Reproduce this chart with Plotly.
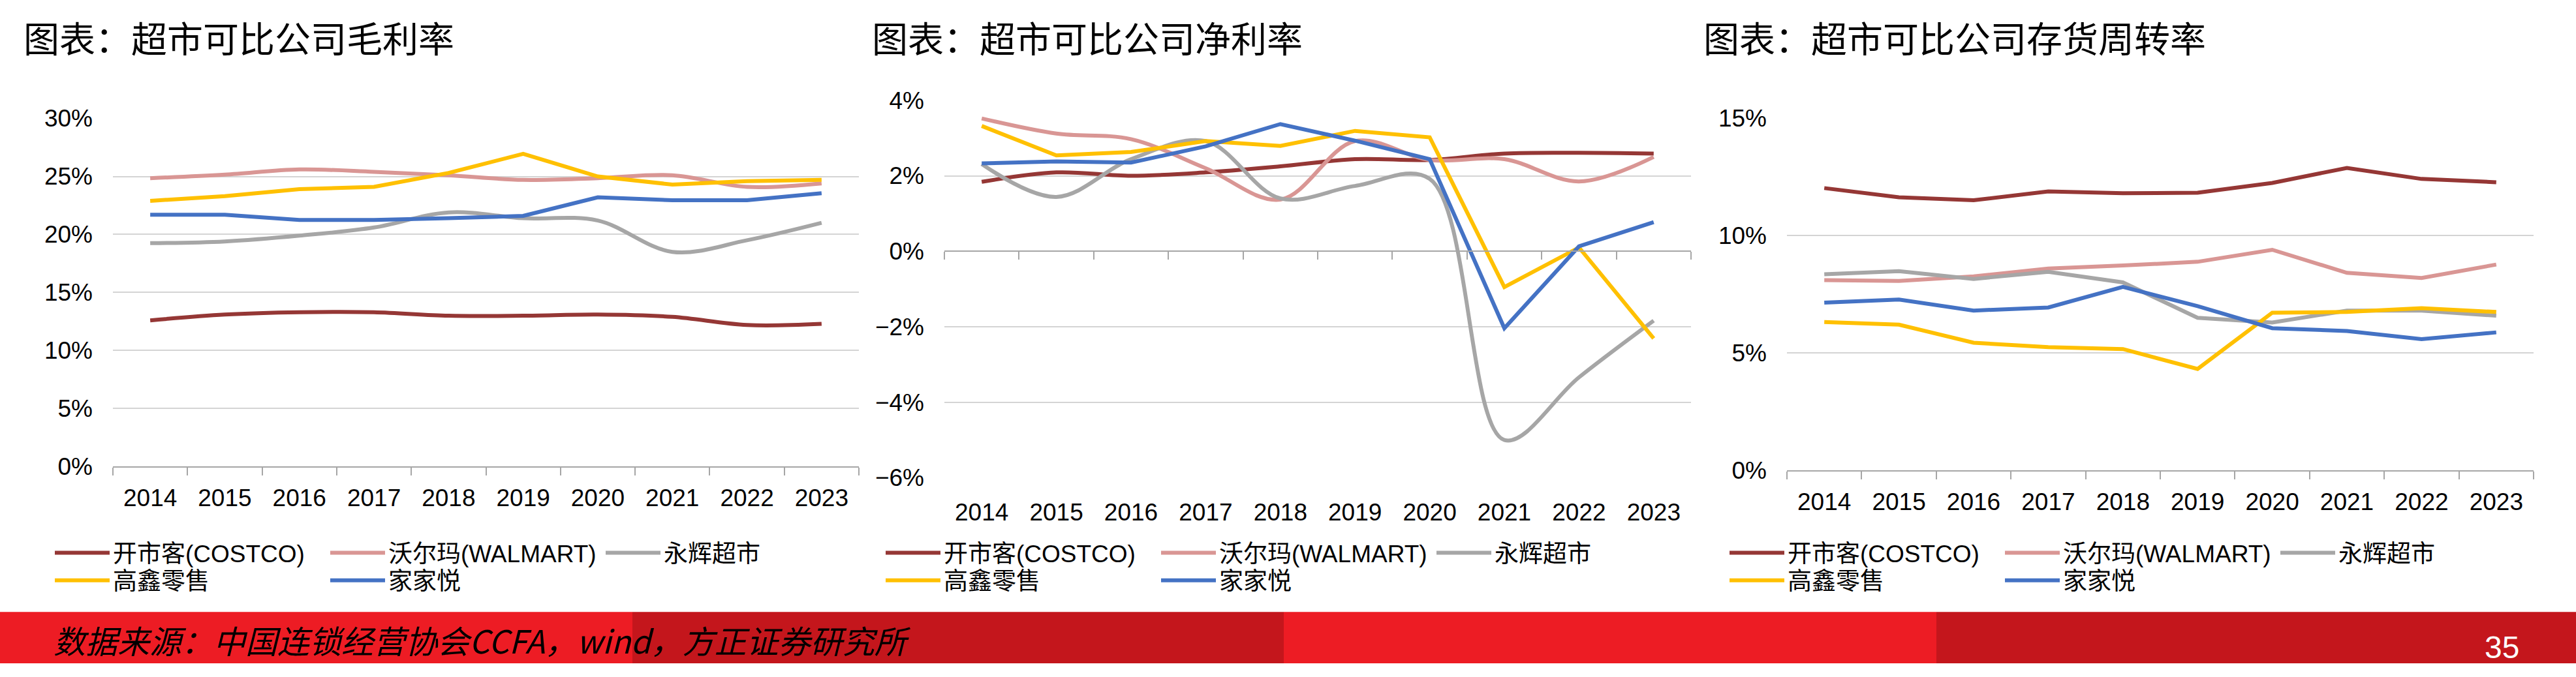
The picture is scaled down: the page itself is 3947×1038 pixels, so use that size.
import plotly.graph_objects as go

# ---------------- data ----------------
years = ["2014", "2015", "2016", "2017", "2018", "2019", "2020", "2021", "2022", "2023"]
companies = ["开市客(COSTCO)", "沃尔玛(WALMART)", "永辉超市", "高鑫零售", "家家悦"]

# gross margin (%)
gm_costco = [12.6, 13.1, 13.3, 13.3, 13.0, 13.0, 13.1, 12.9, 12.2, 12.3]
gm_walmart = [24.85, 25.15, 25.6, 25.4, 25.1, 24.7, 24.85, 25.1, 24.1, 24.4]
gm_yonghui = [19.25, 19.4, 19.9, 20.6, 21.9, 21.4, 21.2, 18.5, 19.5, 21.0]
gm_sunart = [22.9, 23.3, 23.9, 24.1, 25.3, 26.95, 25.0, 24.3, 24.6, 24.7]
gm_jiajiayue = [21.7, 21.7, 21.25, 21.25, 21.4, 21.6, 23.2, 22.95, 22.95, 23.55]

# net margin (%)
nm_costco = [1.84, 2.09, 2.0, 2.09, 2.25, 2.44, 2.42, 2.59, 2.61, 2.59]
nm_walmart = [3.52, 3.12, 2.97, 2.2, 1.37, 2.92, 2.42, 2.44, 1.85, 2.5]
nm_yonghui = [2.31, 1.44, 2.44, 2.92, 1.40, 1.73, 1.92, -5.0, -3.34, -1.84]
nm_sunart = [3.32, 2.54, 2.63, 2.92, 2.79, 3.19, 3.02, -0.95, 0.1, -2.31]
nm_jiajiayue = [2.33, 2.38, 2.35, 2.78, 3.37, 2.93, 2.44, -2.04, 0.13, 0.77]

# inventory turnover (%)
it_costco = [12.03, 11.64, 11.51, 11.89, 11.81, 11.83, 12.25, 12.89, 12.42, 12.28]
it_walmart = [8.11, 8.07, 8.27, 8.6, 8.73, 8.89, 9.4, 8.42, 8.2, 8.77]
it_yonghui = [8.36, 8.49, 8.16, 8.46, 8.01, 6.5, 6.3, 6.81, 6.81, 6.59]
it_sunart = [6.32, 6.21, 5.44, 5.25, 5.17, 4.32, 6.72, 6.75, 6.91, 6.75]
it_jiajiayue = [7.15, 7.28, 6.81, 6.94, 7.82, 7.0, 6.06, 5.94, 5.59, 5.88]

titles = ["图表：超市可比公司毛利率", "图表：超市可比公司净利率", "图表：超市可比公司存货周转率"]
source_text = "数据来源：中国连锁经营协会CCFA，wind，方正证券研究所"
page_no = "35"

# ---------------- styling ----------------
W, H = 3947, 1038
colors = ["#953735", "#D99694", "#A6A6A6", "#FFC000", "#4472C4"]
LAT = "Liberation Sans, Noto Sans CJK SC, sans-serif"
CJK = "Noto Sans CJK SC, sans-serif"
GRID = "#D4D4D4"
AXC = "#A6A6A6"


def fx(px):
    return px / W


def fy(py):
    return 1 - py / H


panels = [
    dict(x=(173, 1316), y=(168, 724), rng=[0, 30.01], dtick=5,
         data=[gm_costco, gm_walmart, gm_yonghui, gm_sunart, gm_jiajiayue],
         smooth=[True, True, True, False, False], title_x=34, leg_x=79),
    dict(x=(1447, 2591), y=(139, 742), rng=[-6.005, 4.005], dtick=2,
         data=[nm_costco, nm_walmart, nm_yonghui, nm_sunart, nm_jiajiayue],
         smooth=[True, True, True, False, False], title_x=1334, leg_x=1352),
    dict(x=(2738, 3882), y=(168, 730), rng=[0, 15.005], dtick=5,
         data=[it_costco, it_walmart, it_yonghui, it_sunart, it_jiajiayue],
         smooth=[False, False, False, False, False], title_x=2608, leg_x=2645),
]

fig = go.Figure()
layout = dict(
    width=W, height=H, margin=dict(l=0, r=0, t=0, b=0, pad=0),
    paper_bgcolor="white", plot_bgcolor="white", showlegend=True,
)

ROW_Y = (862, 906)
for p_i, p in enumerate(panels):
    n = p_i + 1
    xs = "" if n == 1 else str(n)
    xa_name, ya_name = "xaxis" + xs, "yaxis" + xs
    x_dom = [fx(p["x"][0]), fx(p["x"][1])]
    y_dom = [fy(p["y"][1]), fy(p["y"][0])]
    leg_a = "legend" if n == 1 else "legend" + str(2 * n - 1)
    leg_b = "legend" + str(2 * n)
    for s_i, (name, vals) in enumerate(zip(companies, p["data"])):
        fig.add_trace(go.Scatter(
            x=years, y=vals, name=name, mode="lines",
            line=dict(color=colors[s_i], width=6,
                      shape="spline" if p["smooth"][s_i] else "linear", smoothing=1.0),
            xaxis="x" + xs, yaxis="y" + xs,
            legend=leg_a if s_i < 3 else leg_b,
            hoverinfo="skip",
        ))
    on_zero = (n == 2)
    layout[xa_name] = dict(
        domain=x_dom, anchor="y" + xs, type="category", range=[-0.5, 9.5],
        showgrid=False, zeroline=False,
        showline=not on_zero, linecolor=AXC, linewidth=2,
        ticks="" if on_zero else "outside", tickson="boundaries", ticklen=12,
        tickwidth=2, tickcolor=AXC,
        tickfont=dict(family=LAT, size=37, color="black"),
        ticklabelstandoff=27 if on_zero else 14,
    )
    layout[ya_name] = dict(
        domain=y_dom, anchor="x" + xs, range=p["rng"], dtick=p["dtick"], tick0=0,
        ticksuffix="%", showgrid=True, gridcolor=GRID, gridwidth=2,
        zeroline=False, showline=False, ticks="",
        tickfont=dict(family=LAT, size=37, color="black"),
        ticklabelstandoff=30,
    )
    # legends (two rows per panel)
    for leg_name, ry in ((leg_a, ROW_Y[0]), (leg_b, ROW_Y[1])):
        layout[leg_name] = dict(
            orientation="h", x=fx(p["leg_x"]), xanchor="left", y=fy(ry), yanchor="middle",
            itemwidth=84, entrywidth=323, entrywidthmode="pixels",
            font=dict(family=LAT, size=37, color="black"),
            bgcolor="rgba(0,0,0,0)", borderwidth=0, traceorder="normal",
            itemclick=False, itemdoubleclick=False,
        )

# zero-line axis with boundary ticks for the net-margin panel
p2 = panels[1]
y_lo, y_hi = p2["rng"]
y_dom2 = [fy(p2["y"][1]), fy(p2["y"][0])]
zero_pos = y_dom2[0] + (y_dom2[1] - y_dom2[0]) * (0 - y_lo) / (y_hi - y_lo)
fig.add_trace(go.Scatter(x=[], y=[], xaxis="x4", yaxis="y2", showlegend=False, hoverinfo="skip"))
layout["xaxis4"] = dict(
    overlaying="x2", anchor="free", position=zero_pos, side="bottom",
    type="linear", range=[-0.5, 9.5], tick0=-0.5, dtick=1,
    ticks="outside", ticklen=12, tickwidth=2, tickcolor=AXC,
    showline=True, linecolor=AXC, linewidth=2,
    showticklabels=False, showgrid=False, zeroline=False,
)

shapes = []
annotations = []
# footer bar
for (a, b, c) in [(0, 969, "#ED1C24"), (969, 1967, "#C4161C"), (1967, 2967, "#ED1C24"), (2967, W, "#C4161C")]:
    shapes.append(dict(type="rect", xref="paper", yref="paper", x0=fx(a), x1=fx(b),
                       y0=0, y1=fy(956), fillcolor=c, line=dict(width=0), layer="below"))

for t, p in zip(titles, panels):
    annotations.append(dict(text=t, xref="paper", yref="paper", x=fx(p["title_x"]), y=fy(38),
                            xanchor="left", yanchor="middle", showarrow=False,
                            font=dict(family=CJK, size=55, color="black")))

annotations.append(dict(text=source_text, xref="paper", yref="paper", x=fx(80), y=fy(1000),
                        xanchor="left", yanchor="middle", showarrow=False,
                        font=dict(family=CJK, size=49, color="black", style="italic")))
annotations.append(dict(text=page_no, xref="paper", yref="paper", x=fx(3833), y=fy(1012),
                        xanchor="center", yanchor="middle", showarrow=False,
                        font=dict(family=LAT, size=48, color="white")))

layout["shapes"] = shapes
layout["annotations"] = annotations
fig.update_layout(**layout)
fig.write_html("out.html")
